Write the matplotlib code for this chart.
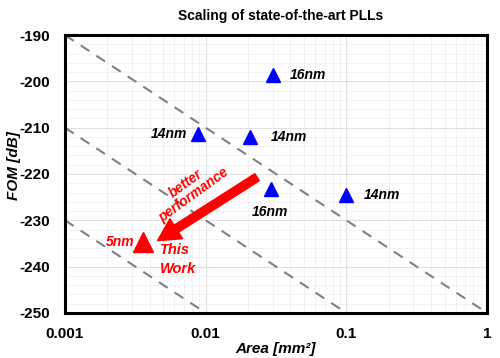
import numpy as np
import matplotlib
matplotlib.use("Agg")
from matplotlib import pyplot as plt
from matplotlib.ticker import FixedLocator, NullFormatter, MultipleLocator

plt.rcParams['font.family'] = ['Liberation Sans', 'DejaVu Sans']
plt.rcParams['axes.unicode_minus'] = False

# published PLLs
area = [0.030, 0.0088, 0.0207, 0.029, 0.100]
fom = [-198.6, -211.3, -212.0, -223.3, -224.6]
node = ["16nm", "14nm", "14nm", "16nm", "14nm"]

# this work
this_area = 0.00358
this_fom = -234.6

# FOM_A reference lines (value at 0.001 mm2, slope -20 dB/decade)
ref_fom0 = [-190, -210, -230]

fig = plt.figure(figsize=(5, 3.58), dpi=100)
ax = fig.add_axes([0.13, 0.126, 0.844, 0.776])

xs = np.logspace(-3, 0, 50)
for f0 in ref_fom0:
    ax.plot(xs, f0 - 20 * np.log10(xs / 0.001), ls=(0, (5, 4)), color="#808080", lw=1.5, zorder=2)

ax.plot(area, fom, ls="none", marker="^", ms=10, color="#0000ff", zorder=3)
ax.plot([this_area], [this_fom], ls="none", marker="^", ms=14, color="#ff0000", zorder=3)

lab = dict(fontsize=10, fontweight="bold", style="italic", va="center")
ax.text(0.0397, fom[0], node[0], ha="left", **lab)
ax.text(0.00736, fom[1], node[1], ha="right", **lab)
ax.text(0.0291, fom[2], node[2], ha="left", **lab)
ax.text(0.0213, -228.2, node[3], ha="left", **lab)
ax.text(0.133, fom[4], node[4], ha="left", **lab)

red = dict(color="#ff0000", fontweight="bold", style="italic")
ax.text(0.0031, this_fom, "5nm", ha="right", va="center", fontsize=10, **red)
ax.text(0.00473, -238.4, "This\nWork", ha="left", va="center", fontsize=10.5, linespacing=1.45, **red)
ax.text(0.0077, -223.3, "better\nperformance", ha="center", va="center", rotation=36,
        fontsize=9.8, linespacing=1.05, **red)

ax.annotate("", xy=(0.00455, -234.4), xytext=(0.0232, -220.7),
            arrowprops=dict(facecolor="#ff0000", edgecolor="#ff0000", width=6,
                            headwidth=17, headlength=16, shrink=0), zorder=4)

ax.set_xscale("log")
ax.set_xlim(0.001, 1)
ax.set_ylim(-250, -190)
ax.xaxis.set_major_locator(FixedLocator([0.001, 0.01, 0.1, 1]))
ax.set_xticklabels(["0.001", "0.01", "0.1", "1"])
ax.xaxis.set_minor_formatter(NullFormatter())
ax.yaxis.set_major_locator(MultipleLocator(10))
ax.yaxis.set_minor_locator(MultipleLocator(2))
ax.tick_params(which="both", length=0, labelsize=11)
ax.tick_params(axis="y", pad=11)
ax.tick_params(axis="x", pad=10)
for t in ax.get_xticklabels() + ax.get_yticklabels():
    t.set_fontweight("bold")

ax.grid(which="major", color="#e0e0e0", lw=0.8, zorder=0)
ax.grid(which="minor", color="#f0f0f0", lw=0.6, zorder=0)
ax.set_axisbelow(True)
for s in ax.spines.values():
    s.set_linewidth(2.2)

ax.set_xlabel("Area [mm²]", fontsize=11, fontweight="bold", style="italic", labelpad=1)
ax.set_ylabel("FOM [dB]", fontsize=11, fontweight="bold", style="italic")
ax.yaxis.set_label_coords(-0.104, 0.53)
ax.set_title("Scaling of state-of-the-art PLLs", fontsize=10, fontweight="bold", pad=11, x=0.51)

fig.savefig("out.png", dpi=100)
